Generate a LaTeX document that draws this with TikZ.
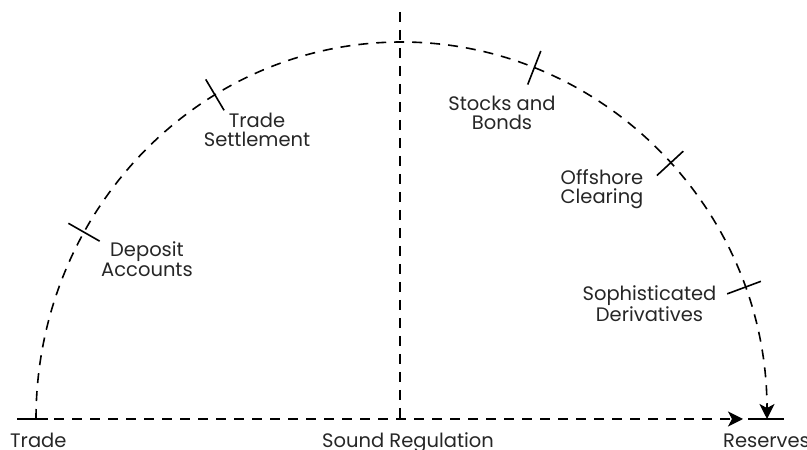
\documentclass[tikz,border=0pt]{standalone}
\usepackage{fontspec}
\setmainfont{Poppins}
\usetikzlibrary{arrows.meta,calc}
\begin{document}
\begin{tikzpicture}[x=1pt,y=1pt,
  dline/.style={line width=1.6pt,dash pattern=on 10pt off 8pt},
  tk/.style={line width=1.6pt},
  lbl/.style={align=center,font=\fontsize{19.5}{19.5}\selectfont,text=black!85,inner sep=0pt},
  tipend/.style={-{Stealth[length=15pt,width=15pt,inset=4pt]}}
]
\useasboundingbox (0,0) rectangle (807,450);
\def\rx{365.5}\def\ry{377}
\coordinate (c) at (401.5,31);
\coordinate (trade) at (36,31);
\coordinate (reserves) at (767,31);
\coordinate (arrowend) at (743,31);
\coordinate (vtop) at (400,438);
\coordinate (vbot) at (400,32);
% arc
\draw[dline,tipend] (trade) arc[start angle=180,end angle=0,x radius=\rx,y radius=\ry];
% baseline
\draw[dline,tipend] (trade) -- (arrowend);
% vertical
\draw[dline] (vtop) -- (vbot);
% end ticks
\draw[tk] ($(trade)+(-19,0)$) -- ($(trade)+(12,0)$);
\draw[tk] ($(reserves)+(-19,0)$) -- ($(reserves)+(17,0)$);
% ticks on arc
\foreach \n/\t in {dep/150.3,ts/120.7,sb/68.7,oc/42.7,sd/20.4}{
  \coordinate (\n) at ({401.5+\rx*cos(\t)},{31+\ry*sin(\t)});
  \draw[tk] ({401.5+(\rx-18)*cos(\t)},{31+(\ry-18)*sin(\t)}) -- ({401.5+(\rx+18)*cos(\t)},{31+(\ry+18)*sin(\t)});
}
% labels
\node[lbl] (ldep) at (147,191) {Deposit\\Accounts};
\node[lbl] (lts) at (257,320) {Trade\\Settlement};
\node[lbl] (lsb) at (502,337) {Stocks and\\Bonds};
\node[lbl] (loc) at (602,261) {Offshore\\Clearing};
\node[lbl] (lsd) at (649.5,146) {Sophisticated\\Derivatives};
\node[lbl,anchor=base west] (ltrade) at (10,2) {Trade};
\node[lbl,anchor=base west] (lsound) at (322,2) {Sound Regulation};
\node[lbl,anchor=base west] (lres) at (723,2) {Reserves};
\end{tikzpicture}
\end{document}
